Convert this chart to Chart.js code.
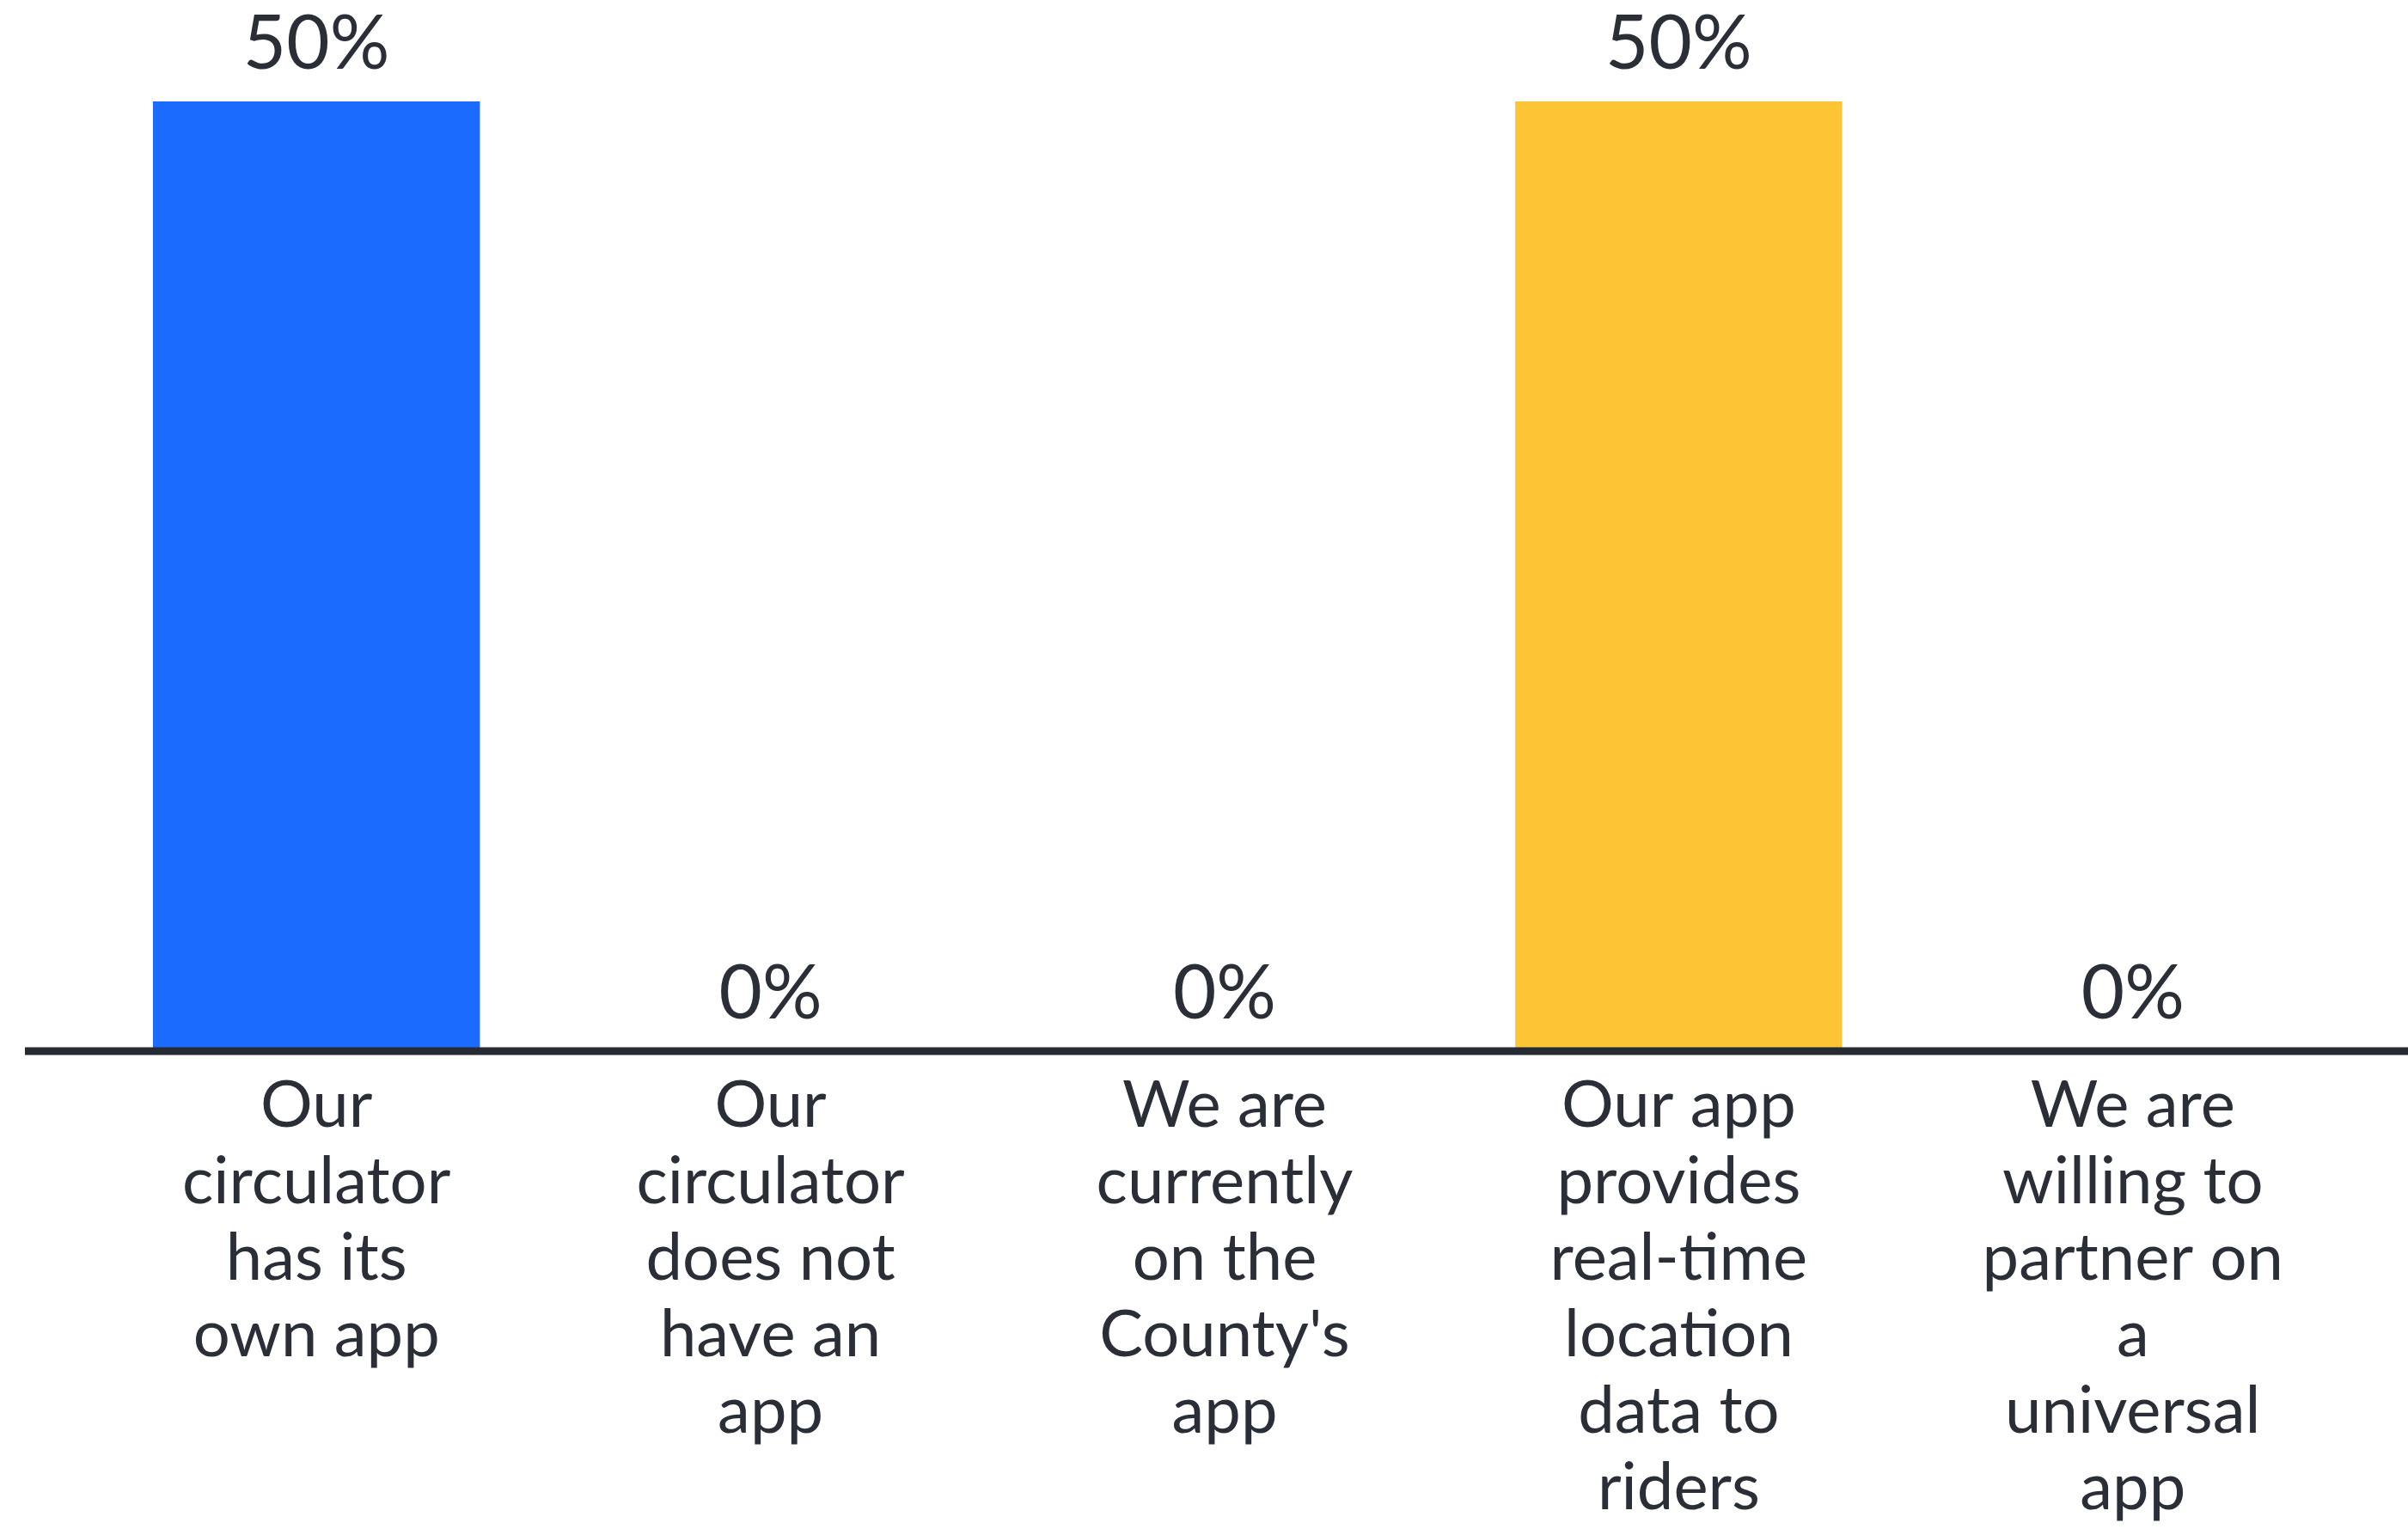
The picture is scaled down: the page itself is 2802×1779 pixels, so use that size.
<!DOCTYPE html>
<html>
<head>
<meta charset="utf-8">
<script src="https://cdn.jsdelivr.net/npm/chart.js@4/dist/chart.umd.min.js"></script>
<style>
  html, body { margin: 0; padding: 0; background: #fff; }
  #wrap { width: 2802px; height: 1779px; position: relative; }
</style>
</head>
<body>
<div id="wrap"><canvas id="chart"></canvas></div>
<script>
const categories = [
    ['Our', 'circulator', 'has its', 'own app'],
    ['Our', 'circulator', 'does not', 'have an', 'app'],
    ['We are', 'currently', 'on the', "County's", 'app'],
    ['Our app', 'provides', 'real-time', 'location', 'data to', 'riders'],
    ['We are', 'willing to', 'partner on', 'a', 'universal', 'app']
];
const values = [50, 0, 0, 50, 0];
const barColors = ['#1b6bfe', '#1b6bfe', '#1b6bfe', '#fdc436', '#fdc436'];

const textColor = '#2a2e37';
const fontFamily = 'Lato, "Noto Sans", sans-serif';

// axis line across the whole width, at the zero value
const baseLine = {
    id: 'baseLine',
    afterDatasetsDraw(chart) {
        const ctx = chart.ctx;
        const y = chart.scales.y.getPixelForValue(0);
        ctx.save();
        ctx.strokeStyle = '#262a33';
        ctx.lineWidth = 9;
        ctx.beginPath();
        ctx.moveTo(29, y);
        ctx.lineTo(chart.width, y);
        ctx.stroke();
        ctx.restore();
    }
};

// percent labels above the bars
const valueLabels = {
    id: 'valueLabels',
    afterDatasetsDraw(chart) {
        const ctx = chart.ctx;
        const meta = chart.getDatasetMeta(0);
        ctx.save();
        ctx.fillStyle = textColor;
        ctx.font = '87px ' + fontFamily;
        ctx.textAlign = 'center';
        ctx.textBaseline = 'middle';
        meta.data.forEach((bar, i) => {
            ctx.fillText(values[i] + '%', bar.x, bar.y - 66);
        });
        ctx.restore();
    }
};

new Chart(document.getElementById('chart'), {
    type: 'bar',
    data: {
        labels: categories,
        datasets: [{
            data: values,
            backgroundColor: barColors,
            borderWidth: 0,
            categoryPercentage: 1,
            barPercentage: 0.72
        }]
    },
    options: {
        responsive: true,
        maintainAspectRatio: false,
        animation: false,
        layout: { padding: { top: 118, left: 104, right: 56, bottom: 3 } },
        plugins: {
            legend: { display: false },
            tooltip: { enabled: false }
        },
        scales: {
            x: {
                grid: { display: false, drawTicks: false },
                border: { display: false },
                ticks: {
                    color: textColor,
                    font: { family: fontFamily, size: 76, lineHeight: '89px' },
                    padding: 19,
                    maxRotation: 0,
                    autoSkip: false
                },
                // six lines of labels plus padding
                afterFit(scale) { scale.height = 19 + 6 * 89; }
            },
            y: {
                display: false,
                min: 0,
                max: 50
            }
        }
    },
    plugins: [baseLine, valueLabels]
});
</script>
</body>
</html>
